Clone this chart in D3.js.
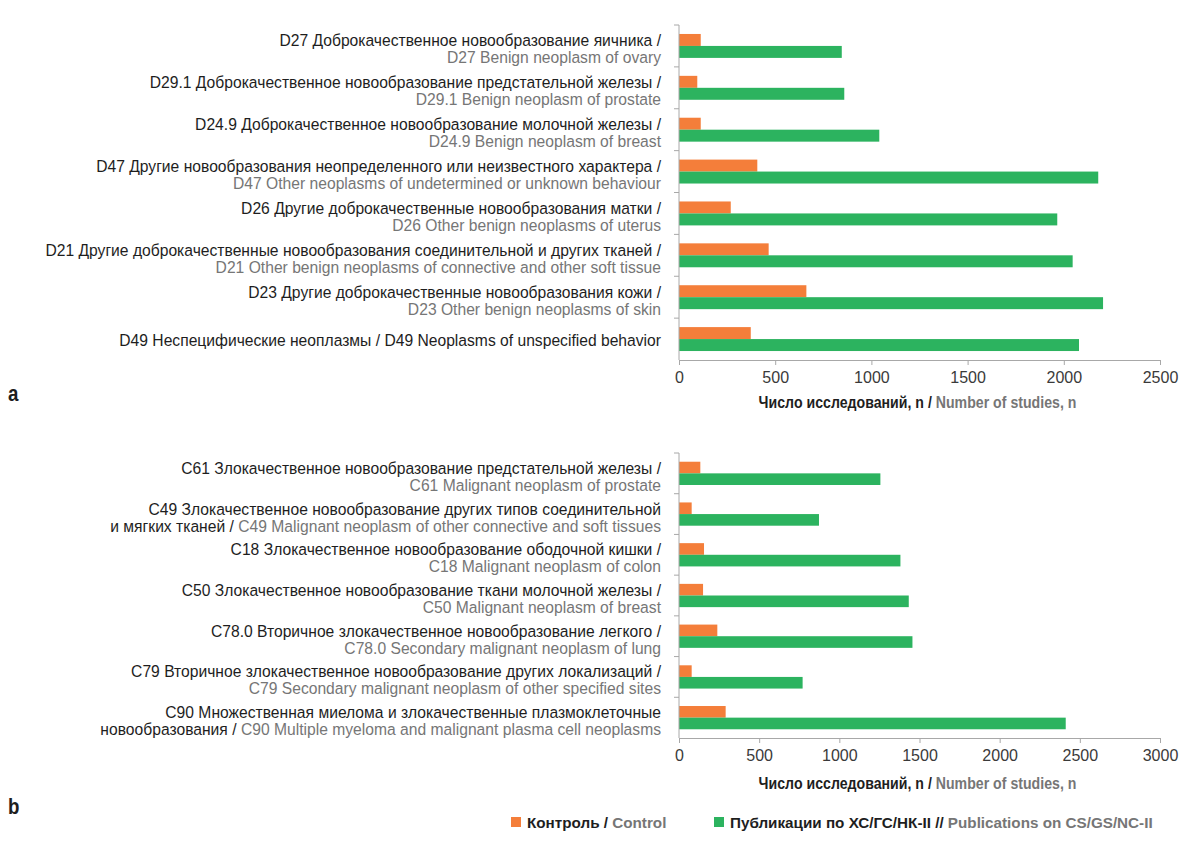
<!DOCTYPE html>
<html>
<head>
<meta charset="utf-8">
<script src="https://cdn.jsdelivr.net/npm/d3@7"></script>
<style>
  html, body { margin: 0; padding: 0; background: #fff; }
  svg { display: block; }
  text { font-family: "Liberation Sans Narrow", "Arial Narrow", "Liberation Sans", Arial, sans-serif; }
</style>
</head>
<body>
<svg id="chart" width="1200" height="860"></svg>
<script>
// ---------- DATA ----------
// label lines: each line is a list of [text, kind] segments (kind 0 = Russian/dark, 1 = English/grey)
const labelsA = [
  [[["D27 Доброкачественное новообразование яичника /", 0]], [["D27 Benign neoplasm of ovary", 1]]],
  [[["D29.1 Доброкачественное новообразование предстательной железы /", 0]], [["D29.1 Benign neoplasm of prostate", 1]]],
  [[["D24.9 Доброкачественное новообразование молочной железы /", 0]], [["D24.9 Benign neoplasm of breast", 1]]],
  [[["D47 Другие новообразования неопределенного или неизвестного характера /", 0]], [["D47 Other neoplasms of undetermined or unknown behaviour", 1]]],
  [[["D26 Другие доброкачественные новообразования матки /", 0]], [["D26 Other benign neoplasms of uterus", 1]]],
  [[["D21 Другие доброкачественные новообразования соединительной и других тканей /", 0]], [["D21 Other benign neoplasms of connective and other soft tissue", 1]]],
  [[["D23 Другие доброкачественные новообразования кожи /", 0]], [["D23 Other benign neoplasms of skin", 1]]],
  [[["D49 Неспецифические неоплазмы / D49 Neoplasms of unspecified behavior", 0]]]
];
const controlA = [113, 95, 113, 407, 269, 466, 662, 373];
const pubA     = [846, 859, 1041, 2179, 1966, 2046, 2204, 2079];
const ticksA   = [0, 500, 1000, 1500, 2000, 2500];

const labelsB = [
  [[["C61 Злокачественное новообразование предстательной железы /", 0]], [["C61 Malignant neoplasm of prostate", 1]]],
  [[["C49 Злокачественное новообразование других типов соединительной", 0]], [["и мягких тканей / ", 0], ["C49 Malignant neoplasm of other connective and soft tissues", 1]]],
  [[["C18 Злокачественное новообразование ободочной кишки /", 0]], [["C18 Malignant neoplasm of colon", 1]]],
  [[["C50 Злокачественное новообразование ткани молочной железы /", 0]], [["C50 Malignant neoplasm of breast", 1]]],
  [[["C78.0 Вторичное злокачественное новообразование легкого /", 0]], [["C78.0 Secondary malignant neoplasm of lung", 1]]],
  [[["C79 Вторичное злокачественное новообразование других локализаций /", 0]], [["C79 Secondary malignant neoplasm of other specified sites", 1]]],
  [[["C90 Множественная миелома и злокачественные плазмоклеточные", 0]], [["новообразования / ", 0], ["C90 Multiple myeloma and malignant plasma cell neoplasms", 1]]]
];
const controlB = [133, 79, 156, 150, 239, 79, 291];
const pubB     = [1256, 873, 1381, 1433, 1456, 771, 2412];
const ticksB   = [0, 500, 1000, 1500, 2000, 2500, 3000];

const axisTitle = [["Число исследований, n / ", 0], ["Number of studies, n", 1]];
const seriesNames = ["control", "pub"];
const legendItems = [
  [["Контроль / ", 0], ["Control", 1]],
  [["Публикации по ХС/ГС/НК-II // ", 0], ["Publications on CS/GS/NC-II", 1]]
];
const panelLetters = ["a", "b"];

// ---------- STYLE ----------
const COLORS = { control: "#F47E3A", pub: "#2CB35F" };
const DARK = "#1e1e1e", GREY = "#767676", AXIS = "#a8a8a8";
const svg = d3.select("#chart");

// measure helper to emulate a condensed face: returns horizontal factor
function condenseFactor(str, size, weight, target) {
  const t = svg.append("text").attr("font-size", size).attr("font-weight", weight).text(str);
  const w = t.node().getComputedTextLength();
  t.remove();
  return Math.min(1.15, target / w);
}
const LABEL_SIZE = 17;
const kLabel = condenseFactor("D27 Доброкачественное новообразование яичника /", LABEL_SIZE, 400, 382);
const kTitle = condenseFactor("Число исследований, n / Number of studies, n", 16, 700, 318);
const kLegend = condenseFactor("Публикации по ХС/ГС/НК-II // Publications on CS/GS/NC-II", 15, 700, 423);
const kLetter = 0.85;

function addSegments(textSel, segs) {
  segs.forEach(([s, kind]) => {
    textSel.append("tspan").attr("fill", kind ? GREY : DARK).text(s);
  });
}

function panel(cfg) {
  const { labels, control, pub, ticks, x0, x1, y0, y1, maxV, letter, letterY, titleDy } = cfg;
  const g = svg.append("g");
  const idx = labels.map((d, i) => i);
  const x = d3.scaleLinear().domain([0, maxV]).range([x0, x1]);
  const y = d3.scaleBand().domain(idx).range([y0, y1]).padding(0);
  const ys = d3.scaleBand().domain(seriesNames).range([0, y.bandwidth()]).paddingInner(0).paddingOuter(0.75);

  // bars
  const rows = g.selectAll("g.row").data(idx).join("g").attr("class", "row")
    .attr("transform", i => `translate(0,${y(i)})`);
  rows.append("rect")
    .attr("x", x(0)).attr("y", ys("control"))
    .attr("width", i => x(control[i]) - x(0)).attr("height", ys.bandwidth())
    .attr("fill", COLORS.control);
  rows.append("rect")
    .attr("x", x(0)).attr("y", ys("pub"))
    .attr("width", i => x(pub[i]) - x(0)).attr("height", ys.bandwidth())
    .attr("fill", COLORS.pub);

  // y axis line + boundary ticks
  const bounds = idx.map(i => y(i));
  g.append("line").attr("x1", x0).attr("x2", x0).attr("y1", y0).attr("y2", y1)
    .attr("stroke", AXIS).attr("stroke-width", 1);
  g.selectAll("line.yt").data(bounds).join("line").attr("class", "yt")
    .attr("x1", x0 - 5).attr("x2", x0).attr("y1", d => d).attr("y2", d => d)
    .attr("stroke", AXIS).attr("stroke-width", 1);

  // x axis
  const xAxis = d3.axisBottom(x).tickValues(ticks).tickSize(5).tickPadding(7).tickFormat(d3.format("d"));
  const ax = g.append("g").attr("transform", `translate(0,${y1})`).call(xAxis);
  ax.select(".domain").attr("stroke", AXIS);
  ax.selectAll(".tick line").attr("stroke", AXIS);
  ax.selectAll(".tick text").attr("font-size", 16).attr("fill", "#3a3a3a")
    .attr("font-family", "'Liberation Sans', Arial, sans-serif");

  // category labels
  const lab = g.append("g").attr("transform", `translate(661,0) scale(${kLabel},1)`);
  idx.forEach(i => {
    const lines = labels[i];
    const bc = y(i) + y.bandwidth() / 2;
    const base = lines.length === 1 ? [bc + 7] : [bc + 0.5, bc + 17.5];
    lines.forEach((segs, li) => {
      const t = lab.append("text").attr("x", 0).attr("y", base[li])
        .attr("text-anchor", "end").attr("font-size", LABEL_SIZE);
      addSegments(t, segs);
    });
  });

  // axis title
  const tg = g.append("g").attr("transform", `translate(${(x0 + x1) / 2 - 2},${y1 + titleDy}) scale(${kTitle},1)`);
  const tt = tg.append("text").attr("text-anchor", "middle").attr("font-size", 16).attr("font-weight", 700);
  addSegments(tt, axisTitle);

  // panel letter
  svg.append("g").attr("transform", `translate(8,${letterY}) scale(${kLetter},1)`)
    .append("text").attr("font-size", 22).attr("font-weight", 700)
    .attr("fill", DARK).text(letter);
}

panel({ labels: labelsA, control: controlA, pub: pubA, ticks: ticksA, x0: 679, x1: 1160, y0: 25, y1: 360, maxV: 2500, letter: panelLetters[0], letterY: 401, titleDy: 48 });
panel({ labels: labelsB, control: controlB, pub: pubB, ticks: ticksB, x0: 679, x1: 1160, y0: 453, y1: 738, maxV: 3000, letter: panelLetters[1], letterY: 814, titleDy: 51 });

// legend
const legendX = [511, 714];
legendItems.forEach((segs, i) => {
  const lg = svg.append("g").attr("transform", `translate(${legendX[i]},817)`);
  lg.append("rect").attr("x", 0).attr("y", 0).attr("width", 10).attr("height", 10)
    .attr("fill", COLORS[seriesNames[i]]);
  const tg = lg.append("g").attr("transform", `translate(16,10.5) scale(${kLegend},1)`);
  const t = tg.append("text").attr("font-size", 15).attr("font-weight", 700);
  addSegments(t, segs);
});
</script>
</body>
</html>
